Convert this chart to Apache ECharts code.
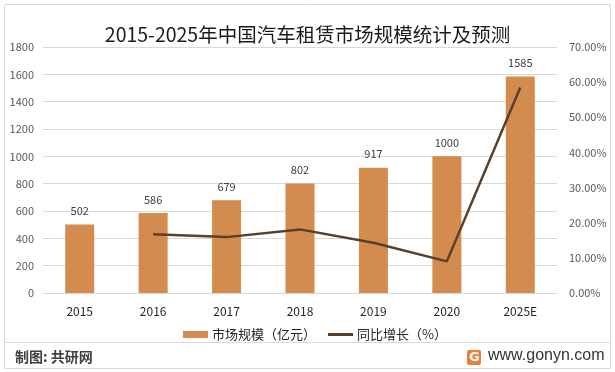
<!DOCTYPE html>
<html><head><meta charset="utf-8">
<script src="https://cdn.jsdelivr.net/npm/echarts@6/dist/echarts.min.js"></script>
<style>html,body{margin:0;padding:0;background:#fff}#c{width:615px;height:372px}</style>
</head><body><div id="c"></div>
<script>
const categories = ['2015','2016','2017','2018','2019','2020','2025E'];
const marketSize = [502, 586, 679, 802, 917, 1000, 1585];
const growth = [null, 16.7, 15.9, 18.1, 14.3, 9.0, 58.5];
const leftTicks = [0, 1800, 200];
const rightTicks = [0, 70, 10];

const chart = echarts.init(document.getElementById('c'));
const font = '"Noto Sans CJK SC", "Noto Sans", sans-serif';
chart.setOption({
  animation: false,
  textStyle: {fontFamily: font},
  title: {text: '2015-2025年中国汽车租赁市场规模统计及预测', left: 'center', top: 20,
    textStyle: {fontSize: 19.5, fontWeight: 'normal', color: '#1a1a1a', fontFamily: font}},
  grid: {left: 43, right: 58, top: 47, bottom: 79},
  legend: [
    {left: 178, top: 323, itemWidth: 25, itemHeight: 7,
      textStyle: {fontSize: 13, color: '#262626', fontFamily: font, padding: [0,0,0,-1]},
      data: [{name: '市场规模（亿元）', icon: 'rect'}]},
    {left: 323, top: 323, itemWidth: 25, itemHeight: 3,
      textStyle: {fontSize: 13, color: '#262626', fontFamily: font, padding: [0,0,0,-1]},
      data: [{name: '同比增长（%）', icon: 'rect'}]}
  ],
  xAxis: {type: 'category', data: categories,
    axisLine: {lineStyle: {color: '#d9d9d9'}}, axisTick: {show: false},
    axisLabel: {color: '#262626', fontSize: 12, margin: 12}},
  yAxis: [
    {type: 'value', min: leftTicks[0], max: leftTicks[1], interval: leftTicks[2],
      axisLine: {show: false}, axisTick: {show: false},
      axisLabel: {color: '#595959', fontSize: 11, margin: 9, formatter: v => String(v)},
      splitLine: {lineStyle: {color: '#d9d9d9'}}},
    {type: 'value', min: rightTicks[0], max: rightTicks[1], interval: rightTicks[2],
      axisLine: {show: false}, axisTick: {show: false}, splitLine: {show: false},
      axisLabel: {color: '#595959', fontSize: 11, margin: 12, formatter: v => v.toFixed(2) + '%'}}
  ],
  series: [
    {name: '市场规模（亿元）', type: 'bar', data: marketSize, barWidth: 29,
      itemStyle: {color: '#D38C4E'},
      label: {show: true, position: 'top', color: '#404040', fontSize: 11, distance: 8}},
    {name: '同比增长（%）', type: 'line', yAxisIndex: 1, data: growth, symbol: 'none',
      lineStyle: {color: '#5A3F2B', width: 2.5}, itemStyle: {color: '#5A3F2B'}}
  ],
  graphic: [
    {type: 'rect', shape: {x: 4.5, y: 4.5, width: 606, height: 364}, style: {fill: null, stroke: '#d9d9d9', lineWidth: 1}},
    {type: 'line', shape: {x1: 5, y1: 342.5, x2: 610, y2: 342.5}, style: {stroke: '#d9d9d9', lineWidth: 1}},
    {type: 'text', left: 15, top: 350, style: {text: '制图: 共研网', fontSize: 14, fontWeight: 'bold', fill: '#404040', fontFamily: font}},
    {type: 'rect', shape: {x: 467, y: 350, width: 14, height: 15, r: 2}, style: {fill: '#EE7F3A'}},
    {type: 'text', left: 469, top: 351, style: {text: 'G', fontSize: 13, fontWeight: 'bold', fill: '#fff', fontFamily: 'DejaVu Sans'}},
    {type: 'text', left: 488, top: 348, style: {text: 'www.gonyn.com', fontSize: 16, fill: '#333', fontFamily: 'Liberation Sans, Arial'}}
  ]
});
</script></body></html>
